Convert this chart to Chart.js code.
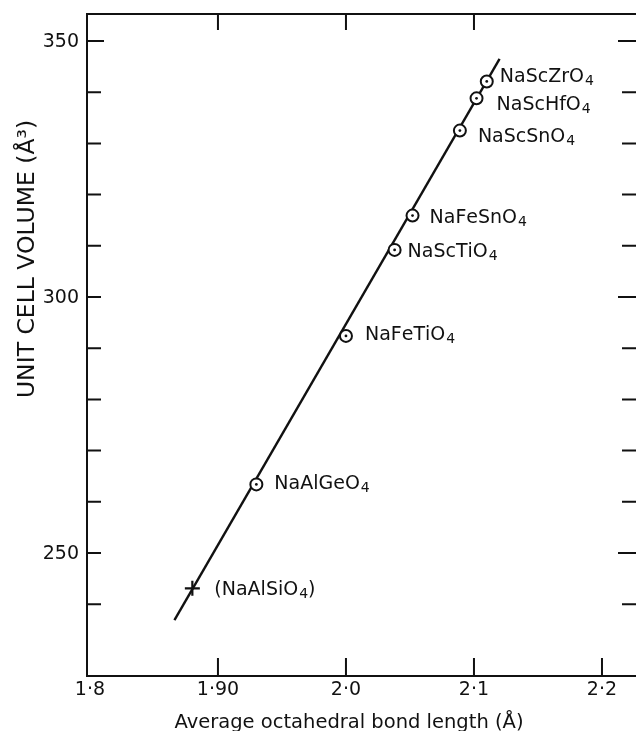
<!DOCTYPE html>
<html>
<head>
<meta charset="utf-8">
<script src="https://cdn.jsdelivr.net/npm/chart.js@4.4.1/dist/chart.umd.min.js"></script>
<style>
html, body { margin: 0; padding: 0; background: #fff; overflow: hidden; width: 636px; height: 731px; }
canvas { display: block; }
</style>
</head>
<body>
<canvas id="cellChart" width="650" height="731"></canvas>
<script>
var compounds = ['NaScZrO4', 'NaScHfO4', 'NaScSnO4', 'NaFeSnO4', 'NaScTiO4', 'NaFeTiO4', 'NaAlGeO4'];
var bondLength = [2.110, 2.102, 2.089, 2.052, 2.038, 2.000, 1.930];
var cellVolume = [342.1, 338.8, 332.5, 315.9, 309.2, 292.4, 263.4];

// the silicate, plotted as a cross
var crossNames = ['(NaAlSiO4)'];
var crossBond = [1.880];
var crossVolume = [243.1];

// straight line through the points (its two ends)
var lineBond = [1.866, 2.120];
var lineVolume = [236.9, 346.5];

// axes
var xTicks = [1.8, 1.9, 2.0, 2.1, 2.2];
var xTickText = ['1·8', '1·90', '2·0', '2·1', '2·2'];
var xTopTicks = [1.9, 2.0, 2.1];
var yTicks = [250, 300, 350];
var yMinorTicks = [240, 250, 260, 270, 280, 290, 300, 310, 320, 330, 340, 350];

// where each label starts, relative to its point (px)
var labelShift = [[13, -6], [20, 5], [18, 4], [17, 0], [13, 0], [19, -3], [18, -2]];
var crossShift = [[22, 0]];

function toXY(xs, ys) {
    return xs.map(function (x, i) { return { x: x, y: ys[i] }; });
}

// writes a formula, digits go as subscripts
function drawFormula(ctx, text, x, y) {
    let pos = x;
    for (let i = 0; i < text.length; i++) {
        let ch = text[i];
        if (ch >= '0' && ch <= '9') {
            ctx.font = '14px "DejaVu Sans"';
            ctx.fillText(ch, pos + 1, y + 3);
            pos += ctx.measureText(ch).width + 1;
        } else {
            ctx.font = '19px "DejaVu Sans"';
            ctx.fillText(ch, pos, y);
            pos += ctx.measureText(ch).width;
        }
    }
}

var framePlugin = {
    id: 'frame',
    beforeDatasetsDraw: function (chart) {
        const ctx = chart.ctx;
        const a = chart.chartArea;
        const xs = chart.scales.x;
        const ys = chart.scales.y;
        ctx.save();
        ctx.strokeStyle = '#111';
        ctx.lineWidth = 2;
        ctx.strokeRect(a.left, a.top, a.right - a.left, a.bottom - a.top);

        ctx.beginPath();
        // left and right ticks, pointing inward
        yMinorTicks.forEach(function (v) {
            let py = ys.getPixelForValue(v);
            let major = yTicks.indexOf(v) >= 0;
            ctx.moveTo(a.left, py);
            ctx.lineTo(a.left + (v == 350 ? 17 : 14), py);
            ctx.moveTo(a.right, py);
            ctx.lineTo(a.right - (major ? 22 : 18), py);
        });
        // bottom ticks
        xTicks.forEach(function (v) {
            if (v == 1.8) return;
            let px = xs.getPixelForValue(v);
            ctx.moveTo(px, a.bottom);
            ctx.lineTo(px, a.bottom - 18);
        });
        // top ticks
        xTopTicks.forEach(function (v) {
            let px = xs.getPixelForValue(v);
            ctx.moveTo(px, a.top);
            ctx.lineTo(px, a.top + 16);
        });
        ctx.stroke();

        // tick labels
        ctx.fillStyle = '#111';
        ctx.font = '19px "DejaVu Sans"';
        ctx.textAlign = 'right';
        ctx.textBaseline = 'middle';
        yTicks.forEach(function (v) {
            ctx.fillText(String(v), a.left - 8, ys.getPixelForValue(v) + 1);
        });
        ctx.textAlign = 'center';
        xTicks.forEach(function (v, i) {
            ctx.fillText(xTickText[i], xs.getPixelForValue(v), a.bottom + 14);
        });

        // axis titles
        ctx.textBaseline = 'alphabetic';
        ctx.font = '19.5px "DejaVu Sans"';
        ctx.fillText('Average octahedral bond length (Å)', 349, 728);
        ctx.translate(34, 259);
        ctx.rotate(-Math.PI / 2);
        ctx.font = '23.5px "DejaVu Sans"';
        ctx.fillText('UNIT CELL VOLUME (Å³)', 0, 0);
        ctx.restore();
    },
    afterDatasetsDraw: function (chart) {
        const ctx = chart.ctx;
        const xs = chart.scales.x;
        const ys = chart.scales.y;
        ctx.save();
        ctx.fillStyle = '#111';
        ctx.textAlign = 'left';
        ctx.textBaseline = 'alphabetic';
        compounds.forEach(function (name, i) {
            let px = xs.getPixelForValue(bondLength[i]) + labelShift[i][0];
            let py = ys.getPixelForValue(cellVolume[i]) + labelShift[i][1] + 7;
            drawFormula(ctx, name, px, py);
        });
        crossNames.forEach(function (name, i) {
            let px = xs.getPixelForValue(crossBond[i]) + crossShift[i][0];
            let py = ys.getPixelForValue(crossVolume[i]) + crossShift[i][1] + 7;
            drawFormula(ctx, name, px, py);
        });
        ctx.restore();
    }
};

const canvas = document.getElementById('cellChart');
const myChart = new Chart(canvas, {
    type: 'scatter',
    data: {
        datasets: [
            {
                // dots in the middle of the circles
                data: toXY(bondLength, cellVolume),
                pointStyle: 'circle',
                pointRadius: 1.4,
                pointBackgroundColor: '#111',
                pointBorderWidth: 0,
                order: 1
            },
            {
                data: toXY(bondLength, cellVolume),
                pointStyle: 'circle',
                pointRadius: 6,
                pointBackgroundColor: '#fff',
                pointBorderColor: '#111',
                pointBorderWidth: 2,
                order: 2
            },
            {
                data: toXY(crossBond, crossVolume),
                pointStyle: 'cross',
                pointRadius: 7.5,
                pointBorderColor: '#111',
                pointBorderWidth: 2.2,
                order: 2
            },
            {
                type: 'line',
                data: toXY(lineBond, lineVolume),
                borderColor: '#111',
                borderWidth: 2.4,
                pointRadius: 0,
                fill: false,
                order: 3
            }
        ]
    },
    options: {
        responsive: false,
        animation: false,
        layout: { padding: { left: 87, top: 14, right: 10, bottom: 55 } },
        plugins: {
            legend: { display: false },
            tooltip: { enabled: false }
        },
        scales: {
            x: { type: 'linear', display: false, min: 1.7977, max: 2.2297 },
            y: { type: 'linear', display: false, min: 225.98, max: 355.27 }
        }
    },
    plugins: [framePlugin]
});
</script>
</body>
</html>
